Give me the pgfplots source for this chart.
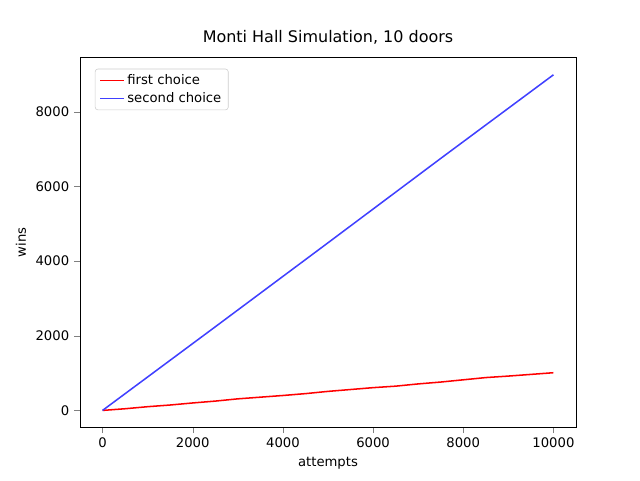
\documentclass[border=0pt]{standalone}
\usepackage{pgfplots}
\pgfplotsset{compat=1.18}
\usepackage{fontspec}
\setmainfont{DejaVu Sans}
\definecolor{bl}{RGB}{64,64,255}
\begin{document}
\begin{tikzpicture}
\useasboundingbox (-57.6pt,-38.2pt) rectangle (403.2pt,307.6pt);
\begin{axis}[at={(0,0)},anchor=south west,scale only axis,width=357.1pt,height=266.1pt,
 xmin=-500,xmax=10500,ymin=-450,ymax=9450,
 xtick={0,2000,4000,6000,8000,10000},ytick={0,2000,4000,6000,8000},
 scaled x ticks=false,scaled y ticks=false,
 /pgf/number format/assume math mode=true,
 /pgf/number format/1000 sep={},
 tick align=outside,xtick pos=left,ytick pos=left,
 tick label style={font=\fontsize{9.5}{11}\selectfont},
 label style={font=\fontsize{9.5}{11}\selectfont},
 xlabel={attempts},ylabel={wins},
 title={Monti Hall Simulation, 10 doors},
 title style={font=\fontsize{11.5}{14}\selectfont},
 legend pos=north west,
 legend style={font=\fontsize{9.5}{11}\selectfont,draw=black!20,rounded corners=2pt},
 legend cell align=left]
\addplot[red,line width=1.1pt] coordinates {(0,0)(500,45)(1000,100)(1500,145)(2000,200)(2500,250)(3000,310)(3500,355)(4000,400)(4500,450)(5000,510)(5500,560)(6000,610)(6500,650)(7000,710)(7500,760)(8000,820)(8500,880)(9000,920)(9500,965)(10000,1010)};
\addlegendentry{first choice}
\addplot[bl,line width=1.1pt] coordinates {(0,0)(2500,2240)(5000,4490)(7500,6750)(10000,8990)};
\addlegendentry{second choice}
\end{axis}
\end{tikzpicture}
\end{document}
